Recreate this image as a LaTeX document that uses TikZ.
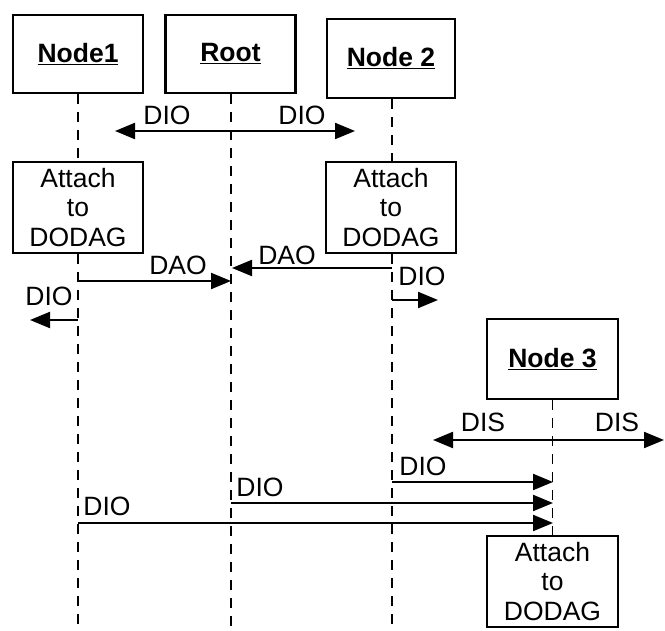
\documentclass[tikz,border=0pt]{standalone}
\usepackage{fontspec}
\setmainfont{Liberation Sans}
\usetikzlibrary{arrows.meta}
\begin{document}
\begin{tikzpicture}[x=1pt,y=-1pt,
  box/.style={draw,line width=2.2pt,fill=white,inner sep=0pt,minimum width=130pt,minimum height=78pt,font=\fontsize{26.5}{30}\selectfont\bfseries},
  attbox/.style={draw,line width=2.2pt,fill=white,inner sep=0pt,minimum width=130pt,minimum height=91pt,align=center,font=\fontsize{26.5}{29.5}\selectfont},
  life/.style={line width=1.8pt,dash pattern=on 10pt off 8pt},
  msg/.style={line width=2.2pt,-{Triangle[length=20pt,width=16pt]}},
  lbl/.style={inner sep=0pt,font=\fontsize{26.5}{30}\selectfont}]
\useasboundingbox (0,0) rectangle (665,631);
% boxes
\node[box] (n1) at (78,54) {\underline{Node1}};
\node[box] (root) at (230.5,54) {\underline{Root}};
\node[box,minimum width=128pt,minimum height=79pt] (n2) at (391,58.5) {\underline{Node 2}};
\node[box,minimum width=131pt,minimum height=80pt] (n3) at (552.5,359) {\underline{Node 3}};
\node[attbox] (a1) at (78,207.5) {Attach\\to\\DODAG};
\node[attbox] (a2) at (391,207.5) {Attach\\to\\DODAG};
\node[attbox,minimum width=131pt] (a3) at (552.5,581.5) {Attach\\to\\DODAG};
% lifeline bottoms
\coordinate (b1) at (78,631);
\coordinate (b0) at (231,631);
\coordinate (b2) at (392,631);
% lifelines
\draw[life] (n1.south -| b1) -- (a1.north -| b1);
\draw[life] (a1.south -| b1) -- (b1);
\draw[life] (root.south -| b0) -- (b0);
\draw[life] (n2.south -| b2) -- (a2.north -| b2);
\draw[life] (a2.south -| b2) -- (b2);
\draw[life] (n3.south) -- (a3.north);
% message endpoints
\coordinate (r131) at (231,131);
\coordinate (l131) at (115,131);
\coordinate (rr131) at (355,131);
\coordinate (n1y281) at (78,281);
\coordinate (r281) at (231,281);
\coordinate (n2y268) at (392,268);
\coordinate (r268) at (232,268);
\coordinate (n2y300) at (392,300);
\coordinate (t300) at (438,300);
\coordinate (n1y320) at (78,320);
\coordinate (t320) at (30,320);
\coordinate (n3y440) at (553,440);
\coordinate (l440) at (433,440);
\coordinate (r440) at (664,440);
\coordinate (n2y482) at (392,482);
\coordinate (n3y482) at (553,482);
\coordinate (r503) at (231,503);
\coordinate (n3y503) at (553,503);
\coordinate (n1y523) at (78,523);
\coordinate (n3y523) at (553,523);
% messages
\draw[msg] (r131) -- (l131);
\draw[msg] (r131) -- (rr131);
\draw[msg] (n1y281) -- (r281);
\draw[msg] (n2y268) -- (r268);
\draw[msg] (n2y300) -- (t300);
\draw[msg] (n1y320) -- (t320);
\draw[msg] (n3y440) -- (l440);
\draw[msg] (n3y440) -- (r440);
\draw[msg] (n2y482) -- (n3y482);
\draw[msg] (r503) -- (n3y503);
\draw[msg] (n1y523) -- (n3y523);
% labels
\node[lbl] (d1) at (167,115) {DIO};
\node[lbl] (d2) at (302,115) {DIO};
\node[lbl] (dao1) at (178,265) {DAO};
\node[lbl] (dao2) at (287,255) {DAO};
\node[lbl] (d3) at (422,276) {DIO};
\node[lbl] (d4) at (49,296) {DIO};
\node[lbl] (s1) at (483,422) {DIS};
\node[lbl] (s2) at (617,422) {DIS};
\node[lbl] (d5) at (423,466) {DIO};
\node[lbl] (d6) at (260,487) {DIO};
\node[lbl] (d7) at (107,506) {DIO};
\end{tikzpicture}
\end{document}
